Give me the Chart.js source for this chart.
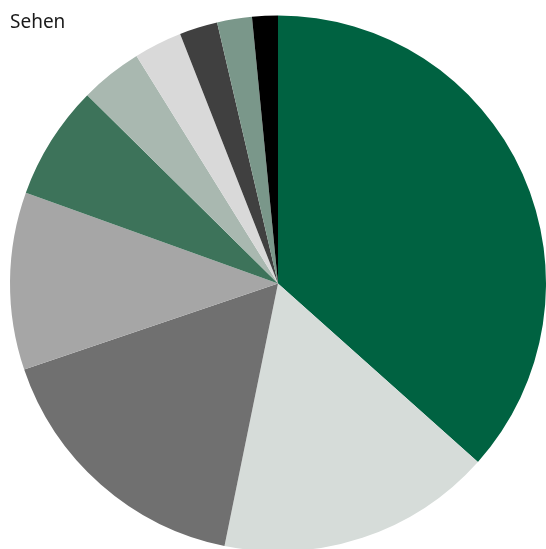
<!DOCTYPE html>
<html>
<head>
<meta charset="utf-8">
<script src="https://cdn.jsdelivr.net/npm/chart.js@4/dist/chart.umd.min.js"></script>
<style>
  html, body { margin: 0; padding: 0; background: #ffffff; overflow: hidden; width: 546px; height: 549px; }
  #wrap { position: absolute; left: 0; top: 0; width: 546px; height: 552px; }
  #title { position: absolute; left: 10px; top: 8px; font-family: "Noto Sans", "Open Sans", sans-serif; font-size: 19px; color: #1a1a1a; z-index: 2; }
</style>
</head>
<body>
<div id="title">Sehen</div>
<div id="wrap"><canvas id="c"></canvas></div>
<script>
const categories = ["Kategorie 1", "Kategorie 2", "Kategorie 3", "Kategorie 4", "Kategorie 5",
                    "Kategorie 6", "Kategorie 7", "Kategorie 8", "Kategorie 9", "Kategorie 10"];
const values = [36.6, 16.6, 16.6, 10.7, 6.9, 3.75, 2.9, 2.3, 2.1, 1.55];
const colors = ["#006241", "#d6dcd9", "#707070", "#a6a6a6", "#3d735a",
                "#a9b8b0", "#d9d9d9", "#404040", "#7a978a", "#000000"];

new Chart(document.getElementById("c"), {
  type: "pie",
  data: {
    labels: categories,
    datasets: [{ data: values, backgroundColor: colors, borderWidth: 0 }]
  },
  options: {
    responsive: true,
    maintainAspectRatio: false,
    animation: false,
    layout: { padding: { left: 10, top: 15, right: 0, bottom: 0 } },
    plugins: { legend: { display: false }, title: { display: false }, tooltip: { enabled: true } }
  }
});
</script>
</body>
</html>
